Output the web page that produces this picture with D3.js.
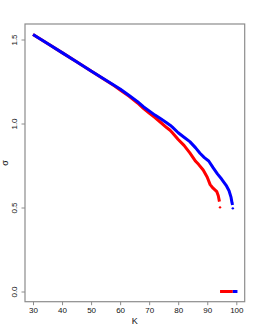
<!DOCTYPE html>
<html>
<head>
<meta charset="utf-8">
<script src="https://cdn.jsdelivr.net/npm/d3@7"></script>
<style>
  body { margin: 0; background: #fff; }
  text { font-family: 'Liberation Sans', Arial, sans-serif; fill: #111; }
</style>
</head>
<body>
<svg id="container"></svg>
<script>
// sigma vs K, two runs
const kBlue = [30, 35, 40, 45, 50, 55, 60, 63, 66, 68, 70, 72, 74, 76, 77.2, 78, 80, 82, 84, 86, 87.5, 89, 90.5, 92, 93.5, 95, 96.5, 97.5, 98.2, 98.5, 98.7];
const sigmaBlue = [1.53, 1.476, 1.422, 1.368, 1.313, 1.259, 1.205, 1.168, 1.13, 1.1, 1.075, 1.05, 1.028, 1.005, 0.99, 0.978, 0.945, 0.918, 0.892, 0.855, 0.823, 0.797, 0.777, 0.737, 0.7, 0.668, 0.632, 0.6, 0.56, 0.53, 0.515];
const kRed = [30, 35, 40, 45, 50, 55, 58, 60, 63, 66, 68, 70, 72, 74, 76, 77.2, 78, 80, 82, 84, 86, 87, 88.6, 90, 91, 92, 93.3, 93.8, 94.2];
const sigmaRed = [1.53, 1.476, 1.422, 1.368, 1.313, 1.258, 1.224, 1.2, 1.163, 1.122, 1.09, 1.062, 1.035, 1.006, 0.976, 0.96, 0.945, 0.905, 0.87, 0.825, 0.775, 0.757, 0.723, 0.68, 0.636, 0.615, 0.594, 0.57, 0.535];
// last isolated points and the zero runs
const endRed = [94.4, 0.501];
const endBlue = [98.8, 0.495];
const zeroRed = [94.4, 98.8];
const zeroBlue = [98.8, 100.4];
const xTicks = [30, 40, 50, 60, 70, 80, 90, 100];
const yTicks = [0, 0.5, 1, 1.5];

const W = 258, H = 333;
const box = { left: 25, right: 244.7, top: 24, bottom: 301.7 };

const svg = d3.select('#container').attr('width', W).attr('height', H);

const x = d3.scaleLinear().domain([30, 100]).range([33, 236.3]);
const y = d3.scaleLinear().domain([0, 1.5]).range([291.5, 39.5]);

// plot box
svg.append('rect')
  .attr('x', box.left).attr('y', box.top)
  .attr('width', box.right - box.left).attr('height', box.bottom - box.top)
  .attr('fill', 'none').attr('stroke', '#8c8c8c').attr('stroke-width', 1.2);

// axes
const gx = svg.append('g')
  .attr('transform', 'translate(0,' + box.bottom + ')')
  .call(d3.axisBottom(x).tickValues(xTicks).tickSize(3.5).tickPadding(2).tickFormat(d3.format('d')));
const gy = svg.append('g')
  .attr('transform', 'translate(' + box.left + ',0)')
  .call(d3.axisLeft(y).tickValues(yTicks).tickSize(3.5).tickFormat(d3.format('.1f')));
[gx, gy].forEach((g) => {
  g.select('.domain').remove();
  g.selectAll('.tick line').attr('stroke', '#8c8c8c');
  g.selectAll('.tick text').style('font-size', '8px').attr('fill', '#111');
});
gy.selectAll('.tick text')
  .attr('x', 0).attr('y', 0)
  .attr('dx', null).attr('dy', null)
  .attr('text-anchor', 'middle')
  .attr('transform', 'translate(-8,0) rotate(-90)');

// axis titles
svg.append('text').attr('x', 134.8).attr('y', 324)
  .attr('text-anchor', 'middle').style('font-size', '9px').text('K');
svg.append('text')
  .attr('transform', 'translate(7.5,163) rotate(-90)')
  .attr('text-anchor', 'middle').style('font-size', '9px').text('σ');

const line = d3.line().x((d) => x(d[0])).y((d) => y(d[1]));

function drawSeries(ks, ss, end, zero, color) {
  const pts = ks.map((k, i) => [k, ss[i]]);
  svg.append('path').datum(pts)
    .attr('d', line).attr('fill', 'none')
    .attr('stroke', color).attr('stroke-width', 3)
    .attr('stroke-linejoin', 'round');
  svg.append('circle')
    .attr('cx', x(end[0])).attr('cy', y(end[1])).attr('r', 1.2)
    .attr('fill', color);
  svg.append('line')
    .attr('x1', x(zero[0])).attr('x2', x(zero[1]))
    .attr('y1', y(0)).attr('y2', y(0))
    .attr('stroke', color).attr('stroke-width', 3);
}

drawSeries(kRed, sigmaRed, endRed, zeroRed, '#ff0000');
drawSeries(kBlue, sigmaBlue, endBlue, zeroBlue, '#0000ff');
</script>
</body>
</html>
